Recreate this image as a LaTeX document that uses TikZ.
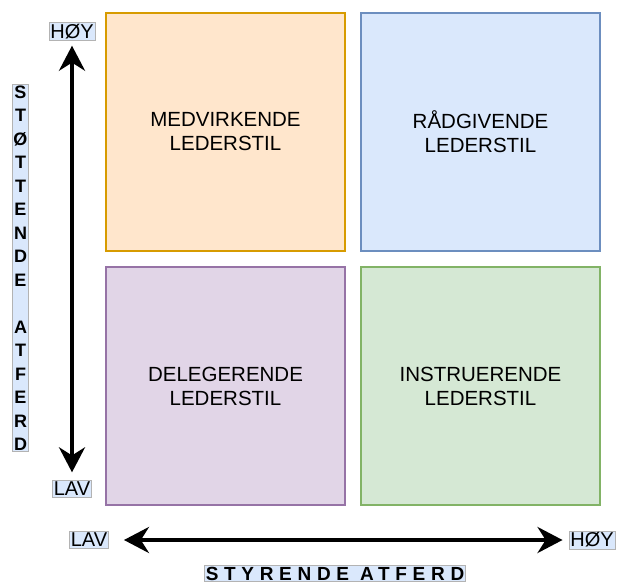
\documentclass[tikz,border=0pt]{standalone}
\usepackage{fontspec}
\setmainfont{Liberation Sans}
\usepackage{tikz}
\usetikzlibrary{arrows.meta}

\definecolor{orfill}{HTML}{FFE6CC}
\definecolor{ordraw}{HTML}{D79B00}
\definecolor{blfill}{HTML}{DAE8FC}
\definecolor{bldraw}{HTML}{6C8EBF}
\definecolor{pufill}{HTML}{E1D5E7}
\definecolor{pudraw}{HTML}{9673A6}
\definecolor{grfill}{HTML}{D5E8D4}
\definecolor{grdraw}{HTML}{82B366}
\definecolor{lblline}{HTML}{B3B3B3}

\begin{document}
\begin{tikzpicture}[x=1pt, y=-1pt,
		quad/.style={draw, line width=1.2pt, minimum width=239pt, minimum height=238pt, inner sep=0pt,
			align=center, font=\fontsize{20.5}{24}\selectfont},
		lbl/.style={fill=blfill, draw=lblline, line width=0.6pt, inner sep=1.5pt, font=\fontsize{20}{22}\selectfont},
		axis/.style={line width=3.8pt, {Stealth[length=25pt, width=26pt]}-{Stealth[length=25pt, width=26pt]}}]
		\useasboundingbox (0,0) rectangle (617,583);
		% the four quadrants
		\node[quad, fill=orfill, draw=ordraw] (medv) at (225.5,132) {MEDVIRKENDE\\LEDERSTIL};
		\node[quad, fill=blfill, draw=bldraw] (radg) at (480.5,132) {RÅDGIVENDE\\LEDERSTIL};
		\node[quad, fill=pufill, draw=pudraw] (deleg) at (225.5,386) {DELEGERENDE\\LEDERSTIL};
		\node[quad, fill=grfill, draw=grdraw] (instr) at (480.5,386) {INSTRUERENDE\\LEDERSTIL};
		% vertical axis
		\node[lbl] (hoyV) at (72,31.5) {HØY};
		\node[lbl] (lavV) at (72,489) {LAV};
		\coordinate (topV) at ([yshift=-5pt]hoyV.south);
		\coordinate (botV) at ([yshift=8pt]lavV.north);
		\draw[axis] (topV) -- (botV);
		\node[lbl, inner sep=1pt, align=center, font=\bfseries\fontsize{18}{23.5}\selectfont] (stotte) at (20.5,268)
			{S\\T\\Ø\\T\\T\\E\\N\\D\\E\\ \\A\\T\\F\\E\\R\\D};
		% horizontal axis
		\node[lbl] (lavH) at (89,540) {LAV};
		\node[lbl] (hoyH) at (592,540) {HØY};
		\coordinate (leftH) at ([xshift=15pt]lavH.east);
		\coordinate (rightH) at ([xshift=-6pt]hoyH.west);
		\draw[axis] (leftH) -- (rightH);
		\node[lbl, inner sep=1pt, font=\bfseries\fontsize{19}{20}\selectfont\addfontfeatures{LetterSpace=30}] (styre) at (335,573.5)
			{STYRENDE ATFERD};
	\end{tikzpicture}
\end{document}
